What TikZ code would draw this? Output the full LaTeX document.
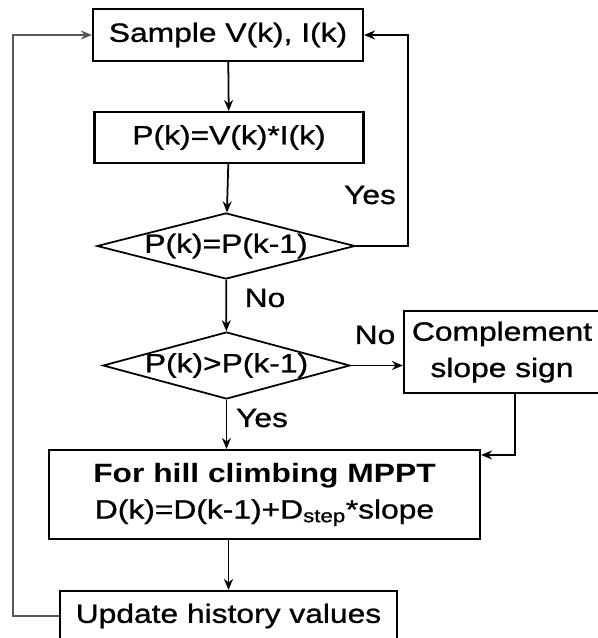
\documentclass[tikz,border=0pt]{standalone}
\usepackage{fontspec}
\setmainfont{Liberation Sans}[FakeStretch=1.2, UprightFeatures={FakeBold=1}]
\usetikzlibrary{arrows.meta,shapes.geometric}

\begin{document}
\begin{tikzpicture}[
  x=0.3mm, y=-0.3mm,
  >={Stealth[length=3.3mm, width=2.7mm]},
  line width=1.5pt,
  font=\fontsize{22.6pt}{31pt}\selectfont,
  procbox/.style={rectangle, draw, line width=1.8pt, inner sep=0pt, align=center},
  decbox/.style={diamond, draw, line width=1.5pt, inner sep=0pt},
  flow/.style={->, draw=black, line width=1.5pt}
]
  \useasboundingbox (0,0) rectangle (598,638);

  \node[procbox, minimum width=81mm, minimum height=15.6mm] (sample) at (228,35) {Sample V(k), I(k)};
  \node[procbox, minimum width=80.7mm, minimum height=15.3mm] (power) at (229,137.5) {P(k)=V(k)*I(k)};
  \node[decbox, minimum width=77.4mm, minimum height=19.8mm, label={center:P(k)=P(k-1)}] (equal) at (226,246) {};
  \node[decbox, minimum width=74.1mm, minimum height=20.1mm, label={center:P(k)>P(k-1)}] (greater) at (226.5,365.5) {};
  \node[procbox, minimum width=58.8mm, minimum height=24.6mm] (compl) at (502,352) {Complement\\slope sign};
  \node[procbox, minimum width=129.3mm, minimum height=26.7mm] (climb) at (264.5,494.5) {\textbf{For hill climbing MPPT}\\D(k)=D(k-1)+D\textsubscript{step}*slope};
  \node[procbox, minimum width=101.1mm, minimum height=15mm] (update) at (228.5,616) {Update history values};

  % branch labels
  \node (yes1) at (370,195) {Yes};
  \node (no1) at (265,298) {No};
  \node (no2) at (375,335) {No};
  \node (yes2) at (262,418) {Yes};

  \coordinate (lft) at (13,35);
  \coordinate (rgt) at (408,35);

  \draw[flow] (sample) -- (power);
  \draw[flow] (power) -- (equal);
  \draw[flow] (equal) -- (greater);
  \draw[flow] (greater.east) -- (compl.west |- greater.east);
  \draw[flow] (greater.south) -- (greater.south |- climb.north);
  \draw[flow] ([xshift=3.9mm]compl.south) |- ([yshift=-1.8mm]climb.north east);
  \draw[flow] (update.north |- climb.south) -- (update.north);
  \draw[flow] (equal.east) -| (rgt) -- (sample.east);
  \draw[flow, draw=black!65] (update.west) -| (lft) -- (sample.west);
\end{tikzpicture}
\end{document}
